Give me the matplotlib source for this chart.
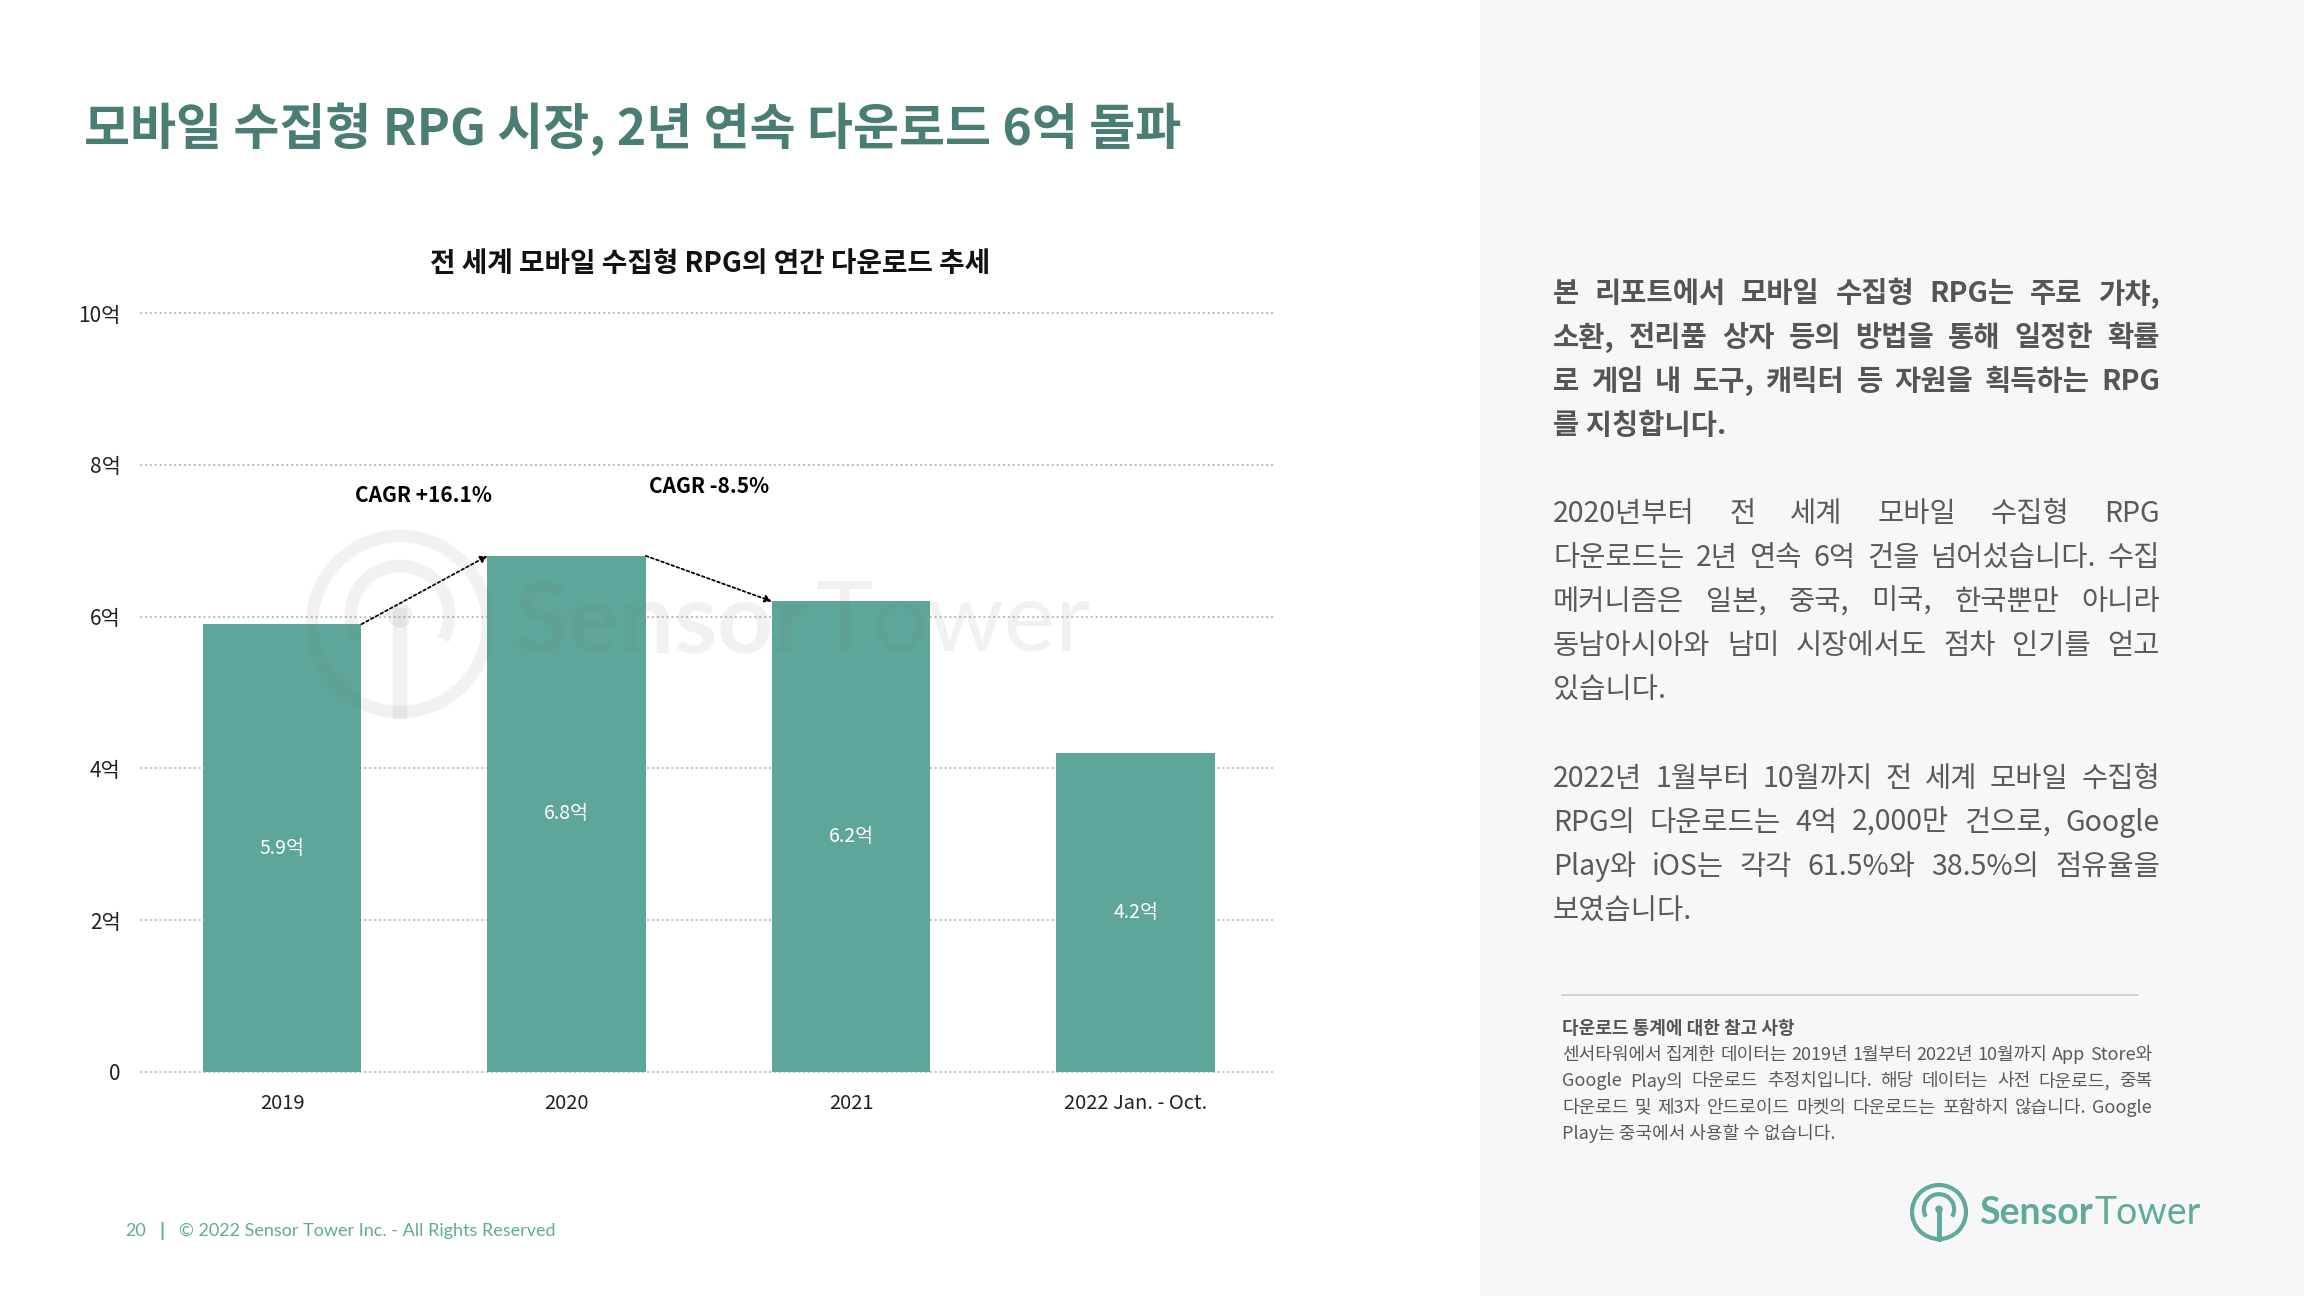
import matplotlib
matplotlib.use("Agg")
import numpy as np
from matplotlib import pyplot as plt
from matplotlib.patches import Rectangle, Ellipse, Arc

plt.rcParams['font.family'] = ['Noto Sans CJK KR', 'DejaVu Sans']

# data
categories = ["2019", "2020", "2021", "2022 Jan. - Oct."]
downloads = [5.9, 6.8, 6.2, 4.2]          # 억
value_labels = ["5.9억", "6.8억", "6.2억", "4.2억"]
y_ticks = [0, 2, 4, 6, 8, 10]
y_tick_labels = ["0", "2억", "4억", "6억", "8억", "10억"]
cagr_labels = ["CAGR +16.1%", "CAGR -8.5%"]

title = "모바일 수집형 RPG 시장, 2년 연속 다운로드 6억 돌파"
chart_title = "전 세계 모바일 수집형 RPG의 연간 다운로드 추세"

para1 = ["본 리포트에서 모바일 수집형 RPG는 주로 가챠,",
         "소환, 전리품 상자 등의 방법을 통해 일정한 확률",
         "로 게임 내 도구, 캐릭터 등 자원을 획득하는 RPG",
         "를 지칭합니다."]
para2 = ["2020년부터 전 세계 모바일 수집형 RPG",
         "다운로드는 2년 연속 6억 건을 넘어섰습니다. 수집",
         "메커니즘은 일본, 중국, 미국, 한국뿐만 아니라",
         "동남아시아와 남미 시장에서도 점차 인기를 얻고",
         "있습니다."]
para3 = ["2022년 1월부터 10월까지 전 세계 모바일 수집형",
         "RPG의 다운로드는 4억 2,000만 건으로, Google",
         "Play와 iOS는 각각 61.5%와 38.5%의 점유율을",
         "보였습니다."]
note_head = "다운로드 통계에 대한 참고 사항"
note = ["센서타워에서 집계한 데이터는 2019년 1월부터 2022년 10월까지 App Store와",
        "Google Play의 다운로드 추정치입니다. 해당 데이터는 사전 다운로드, 중복",
        "다운로드 및 제3자 안드로이드 마켓의 다운로드는 포함하지 않습니다. Google",
        "Play는 중국에서 사용할 수 없습니다."]

BAR = "#5da699"
TEAL = "#4a7d74"
LOGO = "#5faa9b"

W, H = 2304, 1296
fig = plt.figure(figsize=(W / 100, H / 100), dpi=100)
fig.patch.set_facecolor("white")
fig.patches.append(Rectangle((1480 / W, 0), 1 - 1480 / W, 1, transform=fig.transFigure,
                             facecolor="#f7f7f7", edgecolor="none", zorder=0))
renderer = fig.canvas.get_renderer()


def fx(px):
    return px / W


def fy(py):
    return 1 - py / H


def draw_icon(cx, cy, r, color, alpha=1.0, lw=3, z=1):
    # sensor tower icon: ring, inner arc, stem with dot
    fig.patches.append(Ellipse((fx(cx), fy(cy)), 2 * r / W, 2 * r / H, transform=fig.transFigure,
                               fill=False, edgecolor=color, linewidth=lw, alpha=alpha, zorder=z))
    ri = r * 0.56
    fig.patches.append(Arc((fx(cx), fy(cy - r * 0.1)), 2 * ri / W, 2 * ri / H, theta1=-45, theta2=225,
                           transform=fig.transFigure, edgecolor=color, linewidth=lw,
                           alpha=alpha, zorder=z))
    fig.add_artist(plt.Line2D([fx(cx), fx(cx)], [fy(cy - r * 0.1), fy(cy + r)], color=color,
                              lw=lw * 1.15, alpha=alpha, zorder=z))
    rd = r * 0.14
    fig.patches.append(Ellipse((fx(cx), fy(cy - r * 0.1)), 2 * rd / W, 2 * rd / H,
                               transform=fig.transFigure, facecolor=color, edgecolor="none",
                               alpha=alpha, zorder=z))


def draw_wordmark(x0, y, size, color, alpha=1.0, z=1):
    t1 = fig.text(fx(x0), fy(y), "Sensor", fontsize=size, fontweight="bold", color=color,
                  va="center", family="Lato", alpha=alpha, zorder=z)
    w1 = t1.get_window_extent(renderer).width
    fig.text(fx(x0 + w1 + size * 0.08), fy(y), "Tower", fontsize=size, color=color, va="center",
             family="Lato", alpha=alpha, zorder=z)


fig.text(fx(84), fy(129), title, fontsize=36, fontweight="bold", color=TEAL, va="center")

# chart
ax = fig.add_axes([fx(140), fy(1072), fx(1275) - fx(140), fy(313) - fy(1072)])
x = np.arange(len(categories))
ax.bar(x, downloads, width=0.557, color=BAR, zorder=2)
ax.set_xlim(-0.5, 3.49)
ax.set_ylim(0, 10)
ax.set_yticks(y_ticks)
ax.set_yticklabels(y_tick_labels, fontsize=15, color="#222222")
ax.set_xticks(x)
ax.set_xticklabels(categories, fontsize=14.5, color="#222222")
ax.tick_params(length=0)
ax.tick_params(axis="y", pad=14)
ax.tick_params(axis="x", pad=15)
for s in ax.spines.values():
    s.set_visible(False)
ax.grid(axis="y", color="#bbbbbb", linestyle=(0, (1.2, 1.5)), linewidth=1.3, zorder=0)
ax.set_axisbelow(True)
for s in ax.get_ygridlines():
    s.set_clip_on(False)

for i, v in enumerate(downloads):
    ax.text(x[i], v / 2, value_labels[i], ha="center", va="center", fontsize=14,
            color="white", zorder=4)

# CAGR arrows
hw = 0.557 / 2
for i in range(2):
    ax.annotate("", xy=(x[i + 1] - hw, downloads[i + 1]), xytext=(x[i] + hw, downloads[i]),
                arrowprops=dict(arrowstyle="-|>", color="black", lw=1.3,
                                linestyle=(0, (1.5, 1.5)), mutation_scale=10,
                                shrinkA=0, shrinkB=0), zorder=5)
ax.text(0.495, 7.6, cagr_labels[0], ha="center", va="center", fontsize=15, fontweight="bold")
ax.text(1.5, 7.72, cagr_labels[1], ha="center", va="center", fontsize=15, fontweight="bold")

fig.text(fx(710), fy(264), chart_title, fontsize=20, fontweight="bold", ha="center",
         va="center", color="#111111")

# watermark
wm = "#808080"
draw_icon(400, 624, 88, wm, alpha=0.11, lw=9, z=6)
draw_wordmark(515, 624, 70, wm, alpha=0.11, z=6)


def draw_lines(lines, x0, x1, y0, dy, size, weight, color, justify_n):
    for i, line in enumerate(lines):
        y = fy(y0 + i * dy)
        if i < justify_n and " " in line:
            words = line.split(" ")
            texts = [fig.text(0, y, w, fontsize=size, fontweight=weight, color=color,
                              va="center") for w in words]
            widths = [t.get_window_extent(renderer).width for t in texts]
            gap = (x1 - x0 - sum(widths)) / (len(words) - 1)
            cx = x0
            for t, wd in zip(texts, widths):
                t.set_x(fx(cx))
                cx += wd + gap
        else:
            fig.text(fx(x0), y, line, fontsize=size, fontweight=weight, color=color, va="center")


draw_lines(para1, 1553, 2160, 294, 44, 20.5, "bold", "#555555", 3)
draw_lines(para2, 1553, 2160, 514, 44, 20.5, "normal", "#5a5a5a", 4)
draw_lines(para3, 1553, 2160, 779, 44, 20.5, "normal", "#5a5a5a", 3)

fig.add_artist(plt.Line2D([fx(1562), fx(2138)], [fy(995), fy(995)], color="#cccccc", lw=1.2))
fig.text(fx(1562), fy(1029), note_head, fontsize=13, fontweight="bold", color="#555555", va="center")
draw_lines(note, 1562, 2152, 1055, 26.3, 13, "normal", "#5a5a5a", 3)

# footer
fig.text(fx(125), fy(1231), "20", fontsize=13, color=LOGO, va="center", family="Lato")
fig.text(fx(159), fy(1231), "|", fontsize=14, color=LOGO, va="center", fontweight="bold", family="Lato")
fig.text(fx(179), fy(1231), "© 2022 Sensor Tower Inc. - All Rights Reserved", fontsize=13,
         color=LOGO, va="center", family="Lato")

# logo
draw_icon(1939, 1212, 27, LOGO, lw=3)
draw_wordmark(1979, 1213, 27, LOGO)

fig.savefig("out.png", dpi=100)
